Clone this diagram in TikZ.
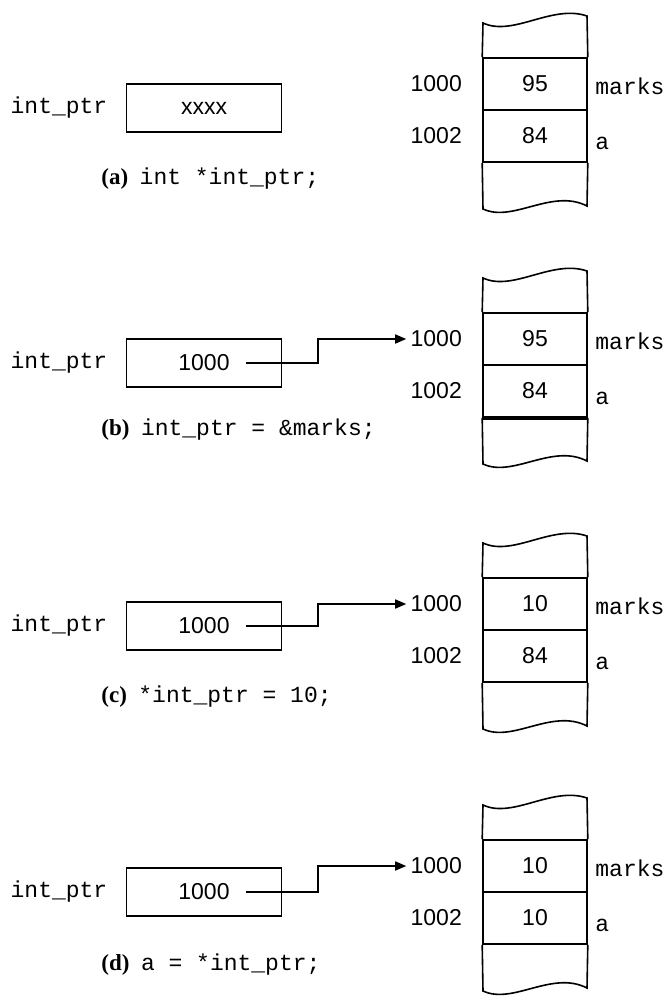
\documentclass[tikz,border=0pt]{standalone}
\usepackage{fontspec}
\setmainfont{Liberation Serif}
\setsansfont{Liberation Sans}
\setmonofont{Liberation Mono}
\usetikzlibrary{arrows.meta, positioning}

\newcommand{\figfont}{\fontsize{11.5}{14}\selectfont}

\begin{document}
\begin{tikzpicture}[
  x=0.5pt, y=-0.5pt,
  cell/.style={rectangle, draw, line width=0.8pt, minimum width=52pt, minimum height=26pt, inner sep=0pt, font=\figfont\sffamily},
  ptrbox/.style={rectangle, draw, line width=0.8pt, minimum width=77.5pt, minimum height=24pt, inner sep=0pt, font=\figfont\sffamily},
  addr/.style={inner sep=2pt, font=\figfont\sffamily},
  ptrname/.style={inner sep=1.5pt, font=\figfont\ttfamily},
  var/.style={inner sep=0pt, anchor=base west, font=\figfont\ttfamily},
  caption/.style={inner sep=0pt, anchor=base west, font=\figfont},
  wave/.style={line width=0.8pt},
  line/.style={line width=0.8pt, -{Triangle[length=5.5pt, width=4.5pt]}}
]
\useasboundingbox (0,0) rectangle (669,997);

\foreach \p/\y/\u/\v in {a/58/95/84, b/313/95/84, c/578/10/84, d/840/10/10} {
  \node[cell] (hi\p) at (535,\y+26) {\u};
  \node[cell] (lo\p) at (535,\y+78) {\v};
  \node[addr, left=8pt of hi\p] (ahi\p) {1000};
  \node[addr, left=8pt of lo\p] (alo\p) {1002};
  \node[var] (mk\p) at (595,\y+36) {marks};
  \node[var] (va\p) at (595,\y+91) {a};
  \draw[wave] (hi\p.north west) -- (483,\y-35) .. controls +(30,14) and +(-35,-12) .. (587,\y-42) -- (hi\p.north east);
  \draw[wave] (lo\p.south west) -- (483,\y+151) .. controls +(30,14) and +(-35,-18) .. (587,\y+148) -- (lo\p.south east);
}
\draw[line width=2pt] (lob.south west) -- (lob.south east);

\node[ptrbox] (pa) at (204,108) {xxxx};
\node[ptrname, left=7.5pt of pa] (na) {int\_ptr};
\node[caption] (ca) at (101,184) {\textbf{(a)}\hspace{0.5em}\texttt{int *int\_ptr;}};

\node[ptrbox] (pb) at (204,363) {1000};
\node[ptrname, left=7.5pt of pb] (nb) {int\_ptr};
\coordinate (sb) at (246,363);
\draw[line] (sb) -- (318,363) |- (ahib.west);
\node[caption] (cb) at (101,435) {\textbf{(b)}\hspace{0.5em}\texttt{int\_ptr = \&marks;}};

\node[ptrbox] (pc) at (204,626) {1000};
\node[ptrname, left=7.5pt of pc] (nc) {int\_ptr};
\coordinate (sc) at (246,626);
\draw[line] (sc) -- (318,626) |- (ahic.west);
\node[caption] (cc) at (101,702) {\textbf{(c)}\hspace{0.5em}\texttt{*int\_ptr = 10;}};

\node[ptrbox] (pd) at (204,892) {1000};
\node[ptrname, left=7.5pt of pd] (nd) {int\_ptr};
\coordinate (sd) at (246,892);
\draw[line] (sd) -- (318,892) |- (ahid.west);
\node[caption] (cd) at (101,970) {\textbf{(d)}\hspace{0.5em}\texttt{a = *int\_ptr;}};
\end{tikzpicture}
\end{document}
